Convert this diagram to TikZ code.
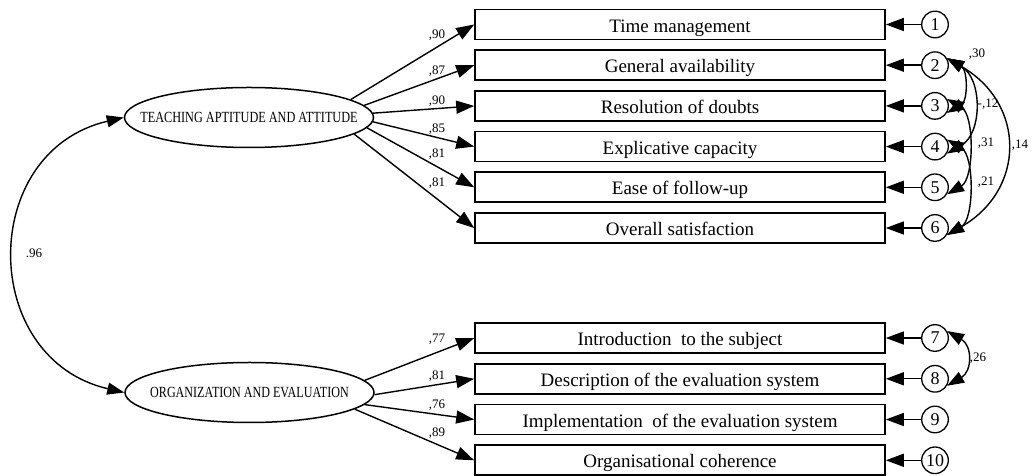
\documentclass[tikz,border=0pt]{standalone}
\usepackage{fontspec}
\setmainfont{Liberation Serif}
\usetikzlibrary{arrows.meta,shapes.geometric}
\begin{document}
\begin{tikzpicture}[x=1pt,y=1pt,
 box/.style={draw,line width=1.6pt,minimum width=410pt,minimum height=30pt,inner sep=0pt,text height=15.2pt,text depth=0pt,font=\fontsize{19}{22}\selectfont},
 err/.style={draw,circle,line width=1.3pt,minimum size=26.6pt,inner sep=0pt,font=\fontsize{18}{20}\selectfont},
 lat/.style={draw,ellipse,line width=1.5pt,minimum width=249pt,minimum height=60pt,inner sep=0pt,font=\fontsize{15.5}{17}\selectfont},
 arr/.style={line width=1.4pt,-{Triangle[length=18pt,width=13pt]}},
 cov/.style={line width=1.4pt,{Triangle[length=17pt,width=12pt]}-{Triangle[length=17pt,width=12pt]}},
 lab/.style={font=\fontsize{13}{15}\selectfont,inner sep=0pt}]
\useasboundingbox (0,0) rectangle (1034,476);

% latent variables
\node[lat] (e1) at (249,358.5) {\makebox[0pt]{\scalebox{0.79}[1]{TEACHING APTITUDE AND ATTITUDE}}};
\node[lat] (e2) at (249.5,83.5) {\makebox[0pt]{\scalebox{0.78}[1]{ORGANIZATION AND EVALUATION}}};

% observed variables
\node[box] (b1) at (680,451.5) {Time management};
\node[box] (b2) at (680,410.8) {General availability};
\node[box] (b3) at (680,370.1) {Resolution of doubts};
\node[box] (b4) at (680,329.4) {Explicative capacity};
\node[box] (b5) at (680,288.7) {Ease of follow-up};
\node[box] (b6) at (680,248) {Overall satisfaction};
\node[box] (b7) at (680,138) {Introduction\ \ to the subject};
\node[box] (b8) at (680,97.2) {Description of the evaluation system};
\node[box] (b9) at (680,56.5) {Implementation\ \ of the evaluation system};
\node[box] (b10) at (680,15.7) {Organisational coherence};

% errors
\node[err] (c1) at (935,451.5) {1};
\node[err] (c2) at (935,410.8) {2};
\node[err] (c3) at (935,370.1) {3};
\node[err] (c4) at (935,329.4) {4};
\node[err] (c5) at (935,288.7) {5};
\node[err] (c6) at (935,248) {6};
\node[err] (c7) at (935,138) {7};
\node[err] (c8) at (935,97.2) {8};
\node[err] (c9) at (935,56.5) {9};
\node[err] (c10) at (935,15.7) {10};

% loadings
\draw[arr] (e1.10) -- (b1.west);
\draw[arr] (e1.6) -- (b2.west);
\draw[arr] (e1.2.5) -- (b3.west);
\draw[arr] (e1.-2.5) -- (b4.west);
\draw[arr] (e1.-5) -- (b5.west);
\draw[arr] (e1.-9.5) -- (b6.west);
\draw[arr] (e2.6) -- (b7.west);
\draw[arr] (e2.-1) -- (b8.west);
\draw[arr] (e2.-6.7) -- (b9.west);
\draw[arr] (e2.-9) -- (b10.west);

\foreach \i in {1,...,10} {\draw[arr] (c\i) -- (b\i);}

% loading labels
\node[lab] (l1) at (437,441) {,90};
\node[lab] (l2) at (437,405.3) {,87};
\node[lab] (l3) at (437,375.3) {,90};
\node[lab] (l4) at (437,347) {,85};
\node[lab] (l5) at (437,322) {,81};
\node[lab] (l6) at (437,293) {,81};
\node[lab] (l7) at (437,137) {,77};
\node[lab] (l8) at (437,100.3) {,81};
\node[lab] (l9) at (437,71) {,76};
\node[lab] (l10) at (437,43) {,89};

% covariances
\draw[cov] (e1.west) to[out=193,in=167,looseness=1.39] (e2.west);
\node[lab] (r0) at (34,223) {.96};

\draw[cov] (c2.30) to[out=-30,in=30,looseness=1.13] (c3.-30);
\draw[cov] (c2.30) to[out=-30,in=30,looseness=1.1] (c4.-30);
\draw[cov] (c3.30) to[out=-30,in=30,looseness=0.85] (c5.-30);
\draw[cov] (c4.30) to[out=-30,in=30,looseness=0.85] (c6.-30);
\draw[cov] (c2.30) to[out=-30,in=30,looseness=1.32] (c6.-30);
\draw[cov] (c7.30) to[out=-30,in=30,looseness=1.37] (c8.-30);

\node[lab] (r1) at (977,422) {,30};
\node[lab] (r2) at (988,372) {-,12};
\node[lab] (r3) at (986,333) {,31};
\node[lab] (r4) at (986,294) {,21};
\node[lab] (r5) at (1020,331) {,14};
\node[lab] (r6) at (978,118) {,26};
\end{tikzpicture}
\end{document}
